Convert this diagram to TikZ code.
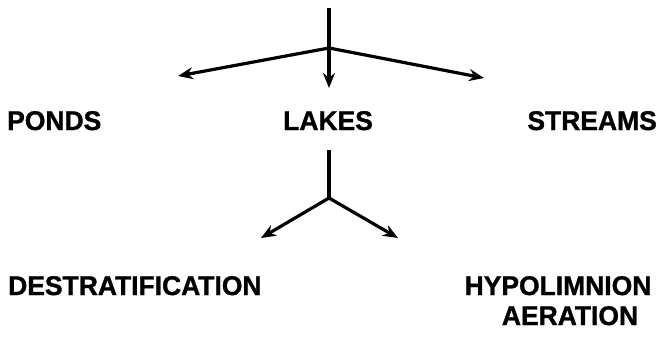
\documentclass[tikz,border=0pt]{standalone}
\usepackage{fontspec}
\setmainfont{Liberation Sans}[FakeStretch=0.98, BoldFeatures={FakeBold=1.2}]
\usepackage{tikz}
\usetikzlibrary{arrows.meta}

\begin{document}
\begin{tikzpicture}[x=1pt, y=-1pt,
    label/.style={inner sep=0pt, font=\fontsize{27}{31}\selectfont\bfseries},
    flow/.style={line width=3.2pt, line join=round, -{Stealth[length=15pt, width=12pt]}}]
    \useasboundingbox (0,0) rectangle (661,337);

    % Top split
    \coordinate (top) at (329,8);
    \coordinate (j1) at (329,48);
    \coordinate (tipL) at (178,76);
    \coordinate (tipD) at (329,88);
    \coordinate (tipR) at (484,78);
    \draw[line width=3.2pt] (top) -- (j1);
    \draw[flow] (j1) -- (tipL);
    \draw[flow] (j1) -- (tipD);
    \draw[flow] (j1) -- (tipR);

    % Water bodies
    \node[label, anchor=base west] (ponds) at (7,130) {PONDS};
    \node[label, anchor=base west] (lakes) at (283,130) {LAKES};
    \node[label, anchor=base east] (streams) at (657,130) {STREAMS};

    % Lake split
    \coordinate (j2) at (329,198);
    \coordinate (tipDs) at (261,238);
    \coordinate (tipHa) at (398,238);
    \draw[line width=3.2pt] (lakes.south -| j2) ++(0,20) -- (j2);
    \draw[flow] (j2) -- (tipDs);
    \draw[flow] (j2) -- (tipHa);

    % Treatments
    \node[label, anchor=base west] (destrat) at (8,295) {DESTRATIFICATION};
    \node[label, anchor=base] (hypo) at (558,295) {HYPOLIMNION};
    \node[label, anchor=base] (aeration) at (570,325) {AERATION};
\end{tikzpicture}
\end{document}
